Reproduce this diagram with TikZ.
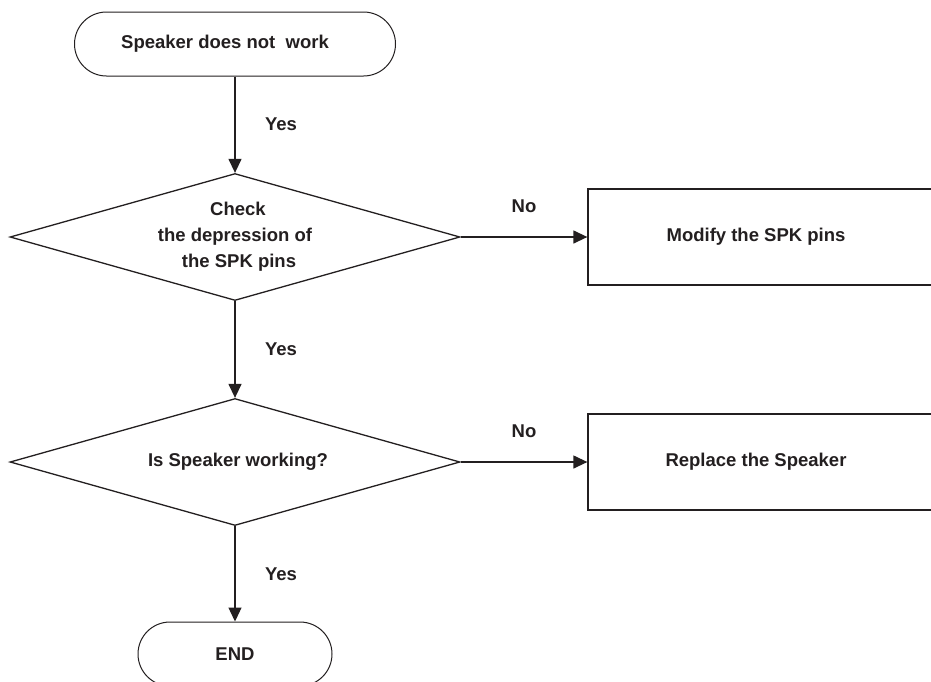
\documentclass[tikz,border=0pt]{standalone}
\usepackage{fontspec}
\setmainfont{Liberation Sans}
\usetikzlibrary{shapes.geometric,arrows.meta}
\definecolor{ink}{HTML}{231F20}
\begin{document}
\begin{tikzpicture}[x=1pt,y=-1pt,
  every node/.style={font=\fontsize{18.5}{26}\selectfont\bfseries, text=ink},
  term/.style={draw=ink, line width=1pt, rectangle, rounded corners=32pt, minimum height=64pt, inner sep=0pt},
  dec/.style={draw=ink, line width=1.3pt, diamond, aspect=3.54, minimum width=450pt, minimum height=127pt, inner sep=0pt, align=center},
  proc/.style={draw=ink, line width=1.3pt, rectangle, minimum width=352pt, minimum height=96pt, inner sep=0pt},
  arr/.style={draw=ink, line width=1.3pt, -{Triangle[length=14pt,width=13pt]}},
  lbl/.style={inner sep=0pt}]
\useasboundingbox (0,0) rectangle (931,681);
\clip (0,0) rectangle (931,681);
\fill[white] (0,0) rectangle (931,681);
\node[term, minimum width=321pt] (start) at (235,44) {\hspace{-20pt}Speaker does not\ \ work};
\node[dec] (d1) at (235,237) {\hspace*{6pt}Check\\the depression of\\\hspace*{8pt}the SPK pins};
\node[proc] (b1) at (764,237) {\hspace{-16pt}Modify the SPK pins};
\node[dec] (d2) at (235,462) {\hspace*{6pt}Is Speaker working?};
\node[proc] (b2) at (764,462) {\hspace{-16pt}Replace the Speaker};
\node[term, minimum width=194pt] (end) at (235,654) {END};
\draw[arr] (start) -- node[lbl, xshift=46pt]{Yes} (d1);
\draw[arr] (d1) -- node[lbl, xshift=46pt]{Yes} (d2);
\draw[arr] (d2) -- node[lbl, xshift=46pt]{Yes} (end);
\draw[arr] (d1) -- node[lbl, yshift=31pt]{No} (b1);
\draw[arr] (d2) -- node[lbl, yshift=31pt]{No} (b2);
\end{tikzpicture}
\end{document}
